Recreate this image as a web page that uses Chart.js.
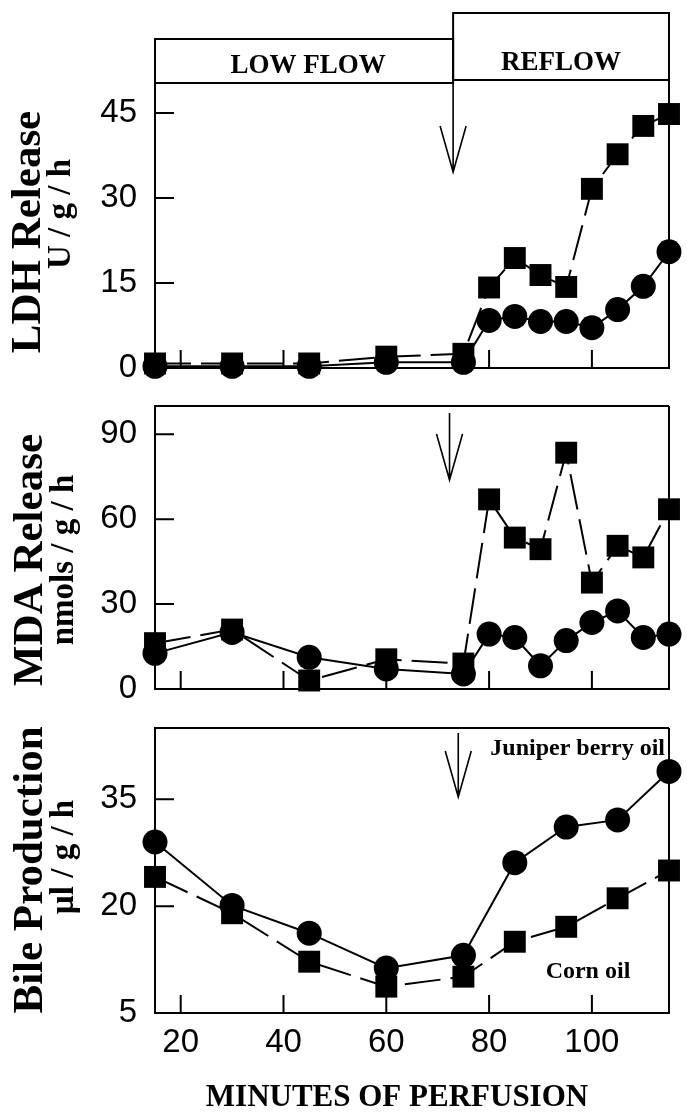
<!DOCTYPE html>
<html>
<head>
<meta charset="utf-8">
<script src="https://cdn.jsdelivr.net/npm/chart.js@4.4.0/dist/chart.umd.min.js"></script>
<style>
  body { margin: 0; background: #fff; }
  #wrap { position: relative; width: 687px; height: 1115px; overflow: hidden; background: #fff; }
  canvas { position: absolute; left: 0; }
</style>
</head>
<body>
<div id="wrap">
  <canvas id="ldh" width="687" height="395" style="top:0px"></canvas>
  <canvas id="mda" width="687" height="330" style="top:390px"></canvas>
  <canvas id="bile" width="687" height="415" style="top:700px"></canvas>
</div>
<script>
// minutes of perfusion
const TIME_ALL = [15, 30, 45, 60, 75, 80, 85, 90, 95, 100, 105, 110, 115];
const TIME_BILE = [15, 30, 45, 60, 75, 85, 95, 105, 115];

// LDH release, U / g / h
const LDH_JUNIPER = [0.3, 0.3, 0.3, 1.0, 1.0, 8.4, 9.1, 8.2, 8.2, 7.1, 10.3, 14.4, 20.5];
const LDH_CORN = [0.8, 0.8, 0.8, 2.0, 2.5, 14.2, 19.4, 16.4, 14.3, 31.6, 37.7, 42.7, 44.8];

// MDA release, nmols / g / h
const MDA_JUNIPER = [12.6, 20, 11.2, 7.1, 5.3, 19.4, 18.2, 8.2, 17.1, 23.5, 27.6, 18.2, 19.4];
const MDA_CORN = [16.2, 21, 3.0, 10.5, 9.0, 67, 53.5, 49.4, 83.5, 37.6, 50.6, 46.5, 63.5];

// bile production, µl / g / h
const BILE_JUNIPER = [29.0, 20.1, 16.2, 11.3, 13.1, 26.1, 31.1, 32.1, 38.9];
const BILE_CORN = [24.1, 19.0, 12.2, 8.7, 10.1, 15.0, 17.1, 21.1, 25.0];

const X_TICKS = [20, 40, 60, 80, 100];
const LDH_TICKS = [0, 15, 30, 45];
const MDA_TICKS = [0, 30, 60, 90];
const BILE_TICKS = [5, 20, 35];

const PHASES = ['LOW FLOW', 'REFLOW'];
const PHASE_SPLIT = 73;
const SERIES_NAMES = ['Juniper berry oil', 'Corn oil'];

const SERIF = "'Liberation Serif', 'Times New Roman', serif";
const SANS = "'Liberation Sans', Arial, sans-serif";

function pts(xs, ys) {
    return xs.map((x, i) => ({ x: x, y: ys[i] }));
}

function makeDatasets(xs, juniper, corn) {
    return [
        {
            label: SERIES_NAMES[1],
            data: pts(xs, corn),
            borderColor: '#000',
            borderWidth: 2,
            borderDash: [36, 10],
            pointStyle: 'rect',
            pointRadius: 15.5,
            pointBackgroundColor: '#000',
            pointBorderWidth: 0,
            clip: false
        },
        {
            label: SERIES_NAMES[0],
            data: pts(xs, juniper),
            borderColor: '#000',
            borderWidth: 2,
            pointStyle: 'circle',
            pointRadius: 12.5,
            pointBackgroundColor: '#000',
            pointBorderWidth: 0,
            clip: false
        }
    ];
}

// big tick labels would otherwise push the plot area in
function noPadding(s) {
    s.paddingTop = 0;
    s.paddingBottom = 0;
    s.paddingLeft = 0;
    s.paddingRight = 0;
}

function xScale(showLabels) {
    return {
        type: 'linear',
        min: 15,
        max: 115,
        afterBuildTicks: s => { s.ticks = X_TICKS.map(v => ({ value: v })); },
        afterFit: s => { s.height = showLabels ? 60 : 0; noPadding(s); },
        grid: { drawOnChartArea: false, drawTicks: false },
        border: { color: '#000', width: 2 },
        ticks: {
            display: showLabels,
            autoSkip: false,
            maxRotation: 0,
            color: '#000',
            padding: 10,
            font: { family: SANS, size: 33 }
        }
    };
}

function yScale(min, max, tickValues) {
    return {
        type: 'linear',
        min: min,
        max: max,
        afterBuildTicks: s => { s.ticks = tickValues.map(v => ({ value: v })); },
        afterFit: s => { s.width = 155; noPadding(s); },
        grid: { drawOnChartArea: false, drawTicks: false },
        border: { color: '#000', width: 2 },
        ticks: { color: '#000', padding: 18, font: { family: SANS, size: 33 } }
    };
}

function vtext(ctx, text, cx, cy, font) {
    ctx.save();
    ctx.translate(cx, cy);
    ctx.rotate(-Math.PI / 2);
    ctx.font = font;
    ctx.textAlign = 'center';
    ctx.textBaseline = 'middle';
    ctx.fillText(text, 0, 0);
    ctx.restore();
}

// frame, inward ticks, arrow and texts
const framePlugin = {
    id: 'frame',
    afterDraw(chart, args, opts) {
        const { ctx, chartArea: a } = chart;
        const x = chart.scales.x, y = chart.scales.y;
        ctx.save();
        ctx.strokeStyle = '#000';
        ctx.fillStyle = '#000';
        ctx.lineWidth = 2;
        ctx.beginPath();
        ctx.moveTo(a.right, a.top);
        ctx.lineTo(a.right, a.bottom);
        if (opts.top) {
            ctx.moveTo(a.left, a.top);
            ctx.lineTo(a.right, a.top);
        }
        x.ticks.forEach(t => {
            const px = x.getPixelForValue(t.value);
            ctx.moveTo(px, a.bottom);
            ctx.lineTo(px, a.bottom - 18);
        });
        y.ticks.forEach(t => {
            const py = y.getPixelForValue(t.value);
            ctx.moveTo(a.left, py);
            ctx.lineTo(a.left + 19, py);
        });
        ctx.stroke();

        // arrow
        const ax = x.getPixelForValue(opts.arrowAt);
        const y0 = a.top + opts.arrow[0], y1 = a.top + opts.arrow[1];
        ctx.lineWidth = 1.6;
        ctx.beginPath();
        ctx.moveTo(ax, y0);
        ctx.lineTo(ax, y1);
        ctx.moveTo(ax - 13, y1 - 46);
        ctx.lineTo(ax, y1);
        ctx.lineTo(ax + 13, y1 - 46);
        ctx.stroke();

        if (opts.phases) {
            const xs = x.getPixelForValue(PHASE_SPLIT);
            ctx.lineWidth = 2;
            ctx.strokeRect(a.left, a.top - 41, xs - a.left, 44);
            ctx.strokeRect(xs, a.top - 67, a.right - xs, 67);
            ctx.font = 'bold 27px ' + SERIF;
            ctx.textAlign = 'center';
            ctx.textBaseline = 'alphabetic';
            ctx.fillText(PHASES[0], (a.left + xs) / 2 + 4, a.top - 7);
            ctx.fillText(PHASES[1], (xs + a.right) / 2, a.top - 10);
        }

        if (opts.legend) {
            ctx.font = 'bold 24px ' + SERIF;
            ctx.textBaseline = 'alphabetic';
            ctx.textAlign = 'right';
            ctx.fillText(SERIES_NAMES[0], a.right - 4, a.top + 27);
            ctx.textAlign = 'left';
            ctx.fillText(SERIES_NAMES[1], x.getPixelForValue(91), a.top + 250);
        }

        if (opts.xTitle) {
            ctx.font = 'bold 31px ' + SERIF;
            ctx.textAlign = 'center';
            ctx.textBaseline = 'alphabetic';
            ctx.fillText(opts.xTitle, 397, chart.height - 9);
        }

        vtext(ctx, opts.title[0], opts.title[1], opts.title[2], 'bold 43px ' + SERIF);
        vtext(ctx, opts.unit[0], opts.unit[1], opts.unit[2], 'bold 33px ' + SERIF);
        ctx.restore();
    }
};

function makeChart(id, xs, juniper, corn, yMin, yMax, yTicks, pad, frame, showX) {
    return new Chart(document.getElementById(id), {
        type: 'line',
        data: { datasets: makeDatasets(xs, juniper, corn) },
        options: {
            responsive: false,
            animation: false,
            devicePixelRatio: 1,
            layout: {
                autoPadding: false,
                padding: { top: pad[0], right: 18, bottom: pad[1], left: 0 }
            },
            scales: { x: xScale(showX), y: yScale(yMin, yMax, yTicks) },
            plugins: {
                legend: { display: false },
                tooltip: { enabled: false },
                frame: frame
            }
        },
        plugins: [framePlugin]
    });
}

makeChart('ldh', TIME_ALL, LDH_JUNIPER, LDH_CORN, 0, 50.8, LDH_TICKS, [80, 27], {
    top: false, phases: true, arrowAt: 73, arrow: [3, 92],
    title: ['LDH Release', 29, 232], unit: ['U / g / h', 61, 214]
}, false);

makeChart('mda', TIME_ALL, MDA_JUNIPER, MDA_CORN, 0, 100, MDA_TICKS, [16, 31], {
    top: true, arrowAt: 72.3, arrow: [7, 74],
    title: ['MDA Release', 31, 170], unit: ['nmols / g / h', 64, 170]
}, false);

makeChart('bile', TIME_BILE, BILE_JUNIPER, BILE_CORN, 5, 45, BILE_TICKS, [28, 42], {
    top: true, legend: true, arrowAt: 74, arrow: [5, 69],
    title: ['Bile Production', 31, 170], unit: ['\u00b5l / g / h', 64, 157],
    xTitle: 'MINUTES OF PERFUSION'
}, true);
</script>
</body>
</html>
